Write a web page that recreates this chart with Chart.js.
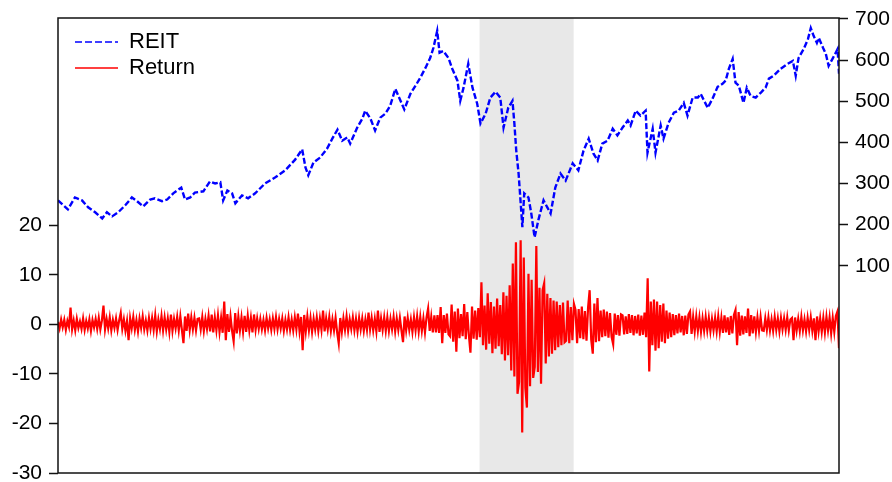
<!DOCTYPE html>
<html>
<head>
<meta charset="utf-8">
<script src="https://cdn.jsdelivr.net/npm/chart.js@4"></script>
<style>
  html, body { margin: 0; padding: 0; background: #fff; }
</style>
</head>
<body>
<canvas id="chart" width="892" height="482"></canvas>
<script>
// REIT index level (right axis)
const reitYears = [1999.00,1999.21,1999.36,1999.51,1999.64,1999.79,1999.94,2000.04,2000.15,2000.28,2000.43,2000.57,2000.68,2000.81,2000.96,
  2001.06,2001.21,2001.32,2001.45,2001.62,2001.70,2001.81,2001.91,2002.09,2002.23,2002.34,2002.45,2002.51,2002.60,2002.70,2002.77,2002.91,
  2003.04,2003.19,2003.40,2003.62,2003.83,2004.04,2004.19,2004.26,2004.32,2004.43,2004.57,2004.72,2004.83,2004.94,2005.04,2005.15,2005.21,
  2005.36,2005.47,2005.53,2005.64,2005.74,2005.85,2005.96,2006.06,2006.17,2006.28,2006.36,2006.49,2006.60,2006.70,2006.81,2006.91,2006.98,
  2007.06,2007.11,2007.19,2007.30,2007.38,2007.49,2007.55,2007.62,2007.72,2007.81,2007.91,2007.98,2008.09,2008.19,2008.30,2008.40,2008.47,
  2008.57,2008.66,2008.70,2008.74,2008.79,2008.83,2008.87,2008.91,2009.00,2009.06,2009.13,2009.21,2009.32,2009.40,2009.47,2009.57,2009.68,
  2009.79,2009.94,2010.06,2010.17,2010.28,2010.38,2010.47,2010.57,2010.68,2010.79,2010.89,2011.00,2011.11,2011.17,2011.28,2011.38,2011.49,
  2011.53,2011.64,2011.70,2011.81,2011.87,2011.98,2012.09,2012.19,2012.30,2012.38,2012.49,2012.60,2012.66,2012.81,2012.91,2013.02,2013.13,
  2013.19,2013.26,2013.34,2013.40,2013.47,2013.57,2013.64,2013.72,2013.83,2013.94,2014.04,2014.11,2014.21,2014.36,2014.51,2014.62,2014.68,
  2014.74,2014.85,2014.94,2015.00,2015.06,2015.13,2015.17,2015.26,2015.32,2015.38,2015.47,2015.53,2015.57,2015.60];
const reitValues = [259,237,266,259,242,230,215,230,220,230,247,266,257,244,261,
  264,257,261,276,290,261,266,278,281,305,300,303,259,283,276,252,271,
  264,276,300,315,332,358,383,339,320,351,363,385,409,431,404,412,397,
  436,458,477,458,429,460,470,489,530,501,480,518,538,557,581,605,630,
  671,618,622,605,579,550,501,533,591,533,494,446,470,509,523,509,436,
  484,501,446,380,324,259,194,276,266,227,169,211,259,242,227,290,324,
  307,349,332,380,409,373,356,397,404,433,417,436,453,441,477,465,477,
  375,433,375,441,409,448,472,477,496,465,509,509,518,484,506,535,543,
  550,579,603,545,538,496,533,513,509,521,533,555,562,579,591,598,562,
  605,627,651,678,659,642,654,630,615,586,605,618,627,567];

// Return (left axis), 30 readings per year starting 1999.0
const returnStart = 1999.0;
const returnStep = 1 / 30;
const returnValues = [
  // 1999
  0.5,-0.8,1.0,-0.6,0.9,-1.1,0.7,-0.5,3.4,-1.0, 0.8,-1.2,1.1,-0.7,0.6,-0.9,1.2,-1.1,0.7,-0.8, 1.0,-1.3,0.9,-0.6,1.1,-0.9,1.3,-1.0,0.8,3.8,
  // 2000
  -1.0,1.1,-0.8,1.4,-1.2,0.9,-0.7,1.2,-1.1,0.8, 2.3,-0.9,1.0,-1.3,0.7,-3.2,1.2,-0.8,1.5,-1.1, 0.9,-1.4,1.2,-0.7,1.6,-1.0,0.8,-1.2,1.3,-0.9,
  // 2001
  1.3,-1.1,1.8,-1.4,1.0,-0.9,1.7,-1.2,1.4,-1.0, 1.2,-1.5,2.0,-1.3,1.1,-0.8,1.5,-1.2,1.6,-1.1, -3.8,1.6,-1.3,2.2,-1.1,1.4,-1.0,1.3,-1.2,1.1,
  // 2002
  1.2,-1.0,1.5,-1.3,1.1,-0.9,1.7,-1.4,2.0,-1.6, 1.4,-1.2,1.8,-1.5,1.3,-1.7,4.6,-3.2,2.1,-1.5, 1.6,-1.3,-3.4,2.3,-1.8,1.6,-1.2,1.4,-1.5,1.7,
  // 2003
  -1.5,1.7,-1.2,1.3,-1.6,2.0,-1.1,1.2,-0.9,1.1, -1.0,0.9,-1.2,1.3,-0.8,1.0,-1.1,1.2,-0.9,1.5, -1.0,1.1,-0.8,1.2,-1.3,0.9,-1.0,1.4,-1.1,1.0,
  // 2004
  -1.2,1.4,-1.0,2.2,-1.3,1.5,-5.2,1.9,-1.4,1.6, -1.2,1.3,-1.5,1.1,-1.0,1.4,-1.3,1.2,-1.1,2.8, -1.4,1.2,-1.0,1.5,-1.3,1.0,-1.2,1.3,-1.6,-3.8,
  // 2005
  1.3,-1.5,1.2,-1.1,1.6,-1.3,1.0,-0.9,1.4,-1.2, 1.1,-1.4,1.3,-1.0,1.2,-1.3,1.0,-1.1,2.4,-1.0, 1.3,-1.2,1.1,-1.4,2.8,-1.5,1.2,-1.1,1.4,-1.3,
  // 2006
  1.4,-1.3,1.1,-1.0,1.5,-1.4,1.2,-1.1,1.3,-1.2, -3.6,1.6,-1.2,1.3,-1.1,1.0,-1.5,1.4,-1.2,1.6, -1.4,1.5,-1.3,1.2,-1.6,1.4,3.2,-1.3,1.5,-1.6,
  // 2007
  1.8,-1.6,1.9,-1.7,3.5,-3.8,1.9,-1.7,2.2,-2.0, -2.4,4.0,-3.5,2.6,-5.5,3.2,-2.8,2.1,-2.4,4.1, -3.0,2.5,-2.2,-5.7,3.6,-2.9,2.8,-3.1,3.3,-2.6,
  // 2008
  8.5,-4.2,3.8,-5.1,6.3,-3.9,4.5,-5.8,3.6,-4.9, 5.2,-4.4,3.9,-6.0,6.5,-7.3,5.8,-6.2,7.9,-9.3, 12.3,-10.5,16.6,-14.0,-11.6,17.0,-21.8,13.5,-12.8,-16.8,
  // 2009
  10.2,-12.5,9.0,-10.8,-8.6,15.8,-9.6,7.4,-12.0,6.9, 8.3,-7.9,6.2,-6.5,5.3,-5.9,4.8,-5.2,4.6,-4.6, 3.9,-4.2,4.4,-3.6,-3.3,4.8,-3.8,3.5,-3.2,4.1,
  // 2010
  2.9,-3.8,3.1,-2.8,3.6,-3.0,2.7,-3.3,3.4,6.9, -3.1,-5.9,4.2,-3.6,5.3,-3.4,2.8,-2.6,3.0,-2.4, 2.6,-2.7,2.3,-2.5,-4.0,2.2,-2.1,1.9,-2.3,2.0,
  // 2011
  1.8,-2.0,1.6,-1.9,2.1,-1.7,1.9,-2.2,1.7,-1.8, 2.0,-2.3,1.8,-2.1,2.4,-2.6,9.3,-9.5,4.6,-4.2, 5.0,-5.3,4.6,-4.8,3.9,-3.5,4.2,-3.8,2.8,-2.9,
  // 2012
  2.4,-2.6,2.1,-2.2,1.9,-1.8,2.2,-1.6,1.7,-2.2, 1.8,-1.9,2.0,2.6,-1.9,1.5,-1.4,1.6,-1.3,1.4, -1.5,1.2,-1.3,1.5,-1.2,1.3,-1.4,1.1,-1.2,1.3,
  // 2013
  -1.4,1.6,-1.5,1.3,-1.7,1.8,-1.6,1.4,-2.1,1.7, -1.8,1.9,2.9,-4.2,2.5,-2.3,1.8,-2.0,1.6,-1.7, 3.2,-2.4,1.9,-1.8,1.6,-1.5,1.4,-1.3,1.5,-1.2,
  // 2014
  -1.3,1.2,-1.1,1.4,-1.2,1.0,-1.3,1.5,-1.1,1.2, -1.4,1.3,-1.0,1.2,-1.1,1.4,-1.2,1.0,1.3,-3.2, 1.4,-1.2,1.1,-1.3,1.5,-1.2,1.0,-1.4,1.3,-1.1,
  // 2015
  1.4,-1.3,1.2,-3.2,1.6,-1.4,1.2,-1.5,1.3,-1.6, 1.5,-1.2,1.4,-1.8,1.3,-1.5,1.7,2.6,-4.8
];

const shadeStart = 2007.96;
const shadeEnd = 2009.96;
const leftTicks = [20, 10, 0, -10, -20, -30];
const rightTicks = [700, 600, 500, 400, 300, 200, 100];

const FONT = '"Liberation Sans", Arial, sans-serif';

const reitData = reitYears.map((t, i) => ({ x: t, y: reitValues[i] }));
const returnData = returnValues.map((v, i) => ({ x: returnStart + i * returnStep, y: v }));

const shadePlugin = {
  id: 'shade',
  beforeDatasetsDraw(chart) {
    const { ctx, chartArea, scales } = chart;
    const x1 = scales.x.getPixelForValue(shadeStart);
    const x2 = scales.x.getPixelForValue(shadeEnd);
    ctx.save();
    ctx.fillStyle = '#e8e8e8';
    ctx.fillRect(x1, chartArea.top, x2 - x1, chartArea.bottom - chartArea.top);
    ctx.restore();
  }
};

const framePlugin = {
  id: 'frame',
  afterDraw(chart) {
    const { ctx, chartArea } = chart;
    ctx.save();
    ctx.strokeStyle = '#111';
    ctx.lineWidth = 1.5;
    ctx.strokeRect(chartArea.left, chartArea.top, chartArea.right - chartArea.left, chartArea.bottom - chartArea.top);

    // legend inside the plot, top left
    const rows = [42, 68];
    chart.data.datasets.forEach((ds, i) => {
      const y = rows[i];
      ctx.beginPath();
      ctx.strokeStyle = ds.borderColor;
      ctx.lineWidth = 1.5;
      ctx.setLineDash(ds.borderDash ? [7, 3] : []);
      ctx.moveTo(75, y);
      ctx.lineTo(118, y);
      ctx.stroke();
      ctx.setLineDash([]);
      ctx.fillStyle = '#000';
      ctx.font = '22px ' + FONT;
      ctx.textBaseline = 'middle';
      ctx.fillText(ds.label, 129, y);
    });
    ctx.restore();
  }
};

new Chart('chart', {
  type: 'line',
  data: {
    datasets: [
      {
        label: 'REIT',
        data: reitData,
        yAxisID: 'yR',
        borderColor: '#0000ff',
        borderWidth: 2.4,
        borderDash: [6, 2.5],
        pointRadius: 0,
        tension: 0,
      },
      {
        label: 'Return',
        data: returnData,
        yAxisID: 'yL',
        borderColor: '#ff0000',
        borderWidth: 2.2,
        pointRadius: 0,
        tension: 0,
      },
    ]
  },
  options: {
    responsive: false,
    animation: false,
    devicePixelRatio: 1,
    layout: { padding: { top: 18 } },
    plugins: { legend: { display: false }, tooltip: { enabled: false } },
    scales: {
      x: {
        type: 'linear',
        min: 1999.0,
        max: 2015.6,
        ticks: { display: false },
        grid: { display: false },
        border: { display: false },
        afterFit: (s) => { s.height = 9; },
      },
      yL: {
        position: 'left',
        min: -30,
        max: 61.85,
        afterBuildTicks: (axis) => { axis.ticks = leftTicks.map(v => ({ value: v })); },
        afterFit: (s) => { s.width = 58; s.paddingTop = 0; s.paddingBottom = 0; },
        ticks: { color: '#000', padding: 7, font: { family: FONT, size: 21 } },
        grid: { drawOnChartArea: false, tickLength: 9, tickColor: '#111', tickWidth: 1.5 },
        border: { display: false },
      },
      yR: {
        position: 'right',
        min: -404,
        max: 702.4,
        afterBuildTicks: (axis) => { axis.ticks = rightTicks.map(v => ({ value: v })); },
        afterFit: (s) => { s.width = 53; s.paddingTop = 0; s.paddingBottom = 0; },
        ticks: { color: '#000', padding: 7, font: { family: FONT, size: 21 } },
        grid: { drawOnChartArea: false, tickLength: 9, tickColor: '#111', tickWidth: 1.5 },
        border: { display: false },
      },
    }
  },
  plugins: [shadePlugin, framePlugin]
});
</script>
</body>
</html>
